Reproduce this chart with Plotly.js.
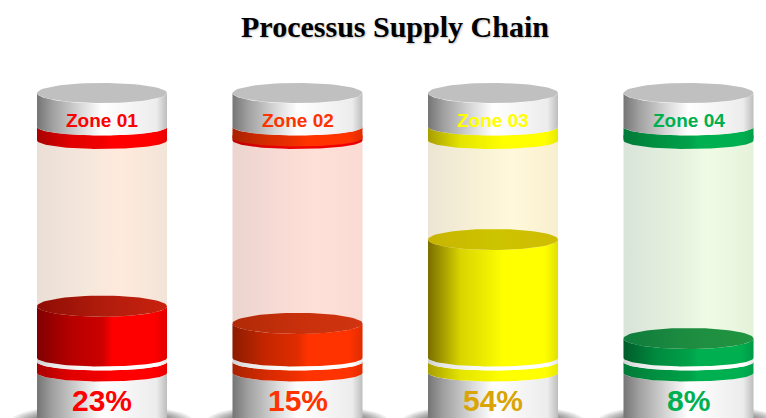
<!DOCTYPE html>
<html>
<head>
<meta charset="utf-8">
<script src="https://cdn.plot.ly/plotly-3.0.1.min.js"></script>
<style>html,body{margin:0;padding:0;background:#fff;overflow:hidden}#chart{width:766px;height:418px}</style>
</head>
<body>
<div id="chart"></div>
<script>
// Supply chain completion per zone
const zones = ["Zone 01", "Zone 02", "Zone 03", "Zone 04"];
const percent = [23, 15, 54, 8];
const labelColors = ["#ff0000", "#ff3300", "#ffff00", "#00b050"];
const valueColors = ["#ff0000", "#ff3300", "#d9a404", "#00b050"];

// Gradient stops, left to right, for each part of the cylinders
const bodyStops = [
  ["#800000", "#b40000", "#cc0000", "#ff0000", "#ff0000", "#e00000"],
  ["#8c1c00", "#c42600", "#e02c00", "#ff3300", "#ff3300", "#e02c00"],
  ["#7a6e00", "#d8d400", "#f4f400", "#ffff00", "#ffff00", "#e0e000"],
  ["#005c2a", "#008a3e", "#00a048", "#00b050", "#00b050", "#009a46"]
];
const bandStops = [
  ["#a80000", "#e00000", "#f00000", "#ff0000", "#ff0000", "#e80000"],
  ["#a82200", "#d42a00", "#f03000", "#ff3300", "#ff3300", "#e02c00"],
  ["#a89e00", "#e4e400", "#f8f800", "#ffff00", "#ffff00", "#e8e800"],
  ["#007a38", "#009040", "#00a048", "#00b050", "#00b050", "#00a048"]
];
const rimStops = [
  bandStops[0],
  ["#c00000", "#e00000", "#f00000", "#f00000", "#f00000", "#e00000"],
  bandStops[2],
  bandStops[3]
];
const surfaceStops = [
  ["#8f0c04", "#b01c0c", "#c8220f"],
  ["#b02a06", "#c8300c", "#d03410"],
  ["#c8b400", "#ccc400", "#d0bc00"],
  ["#0e7c3c", "#1e8c40", "#209540"]
];
const glassStops = [
  ["#eadfd6", "#f8e8dc", "#ffeadd", "#f2e4d8"],
  ["#ebd5cf", "#fadcd5", "#ffe0d8", "#f9dbd3"],
  ["#ece5d3", "#fbf3d6", "#fff8da", "#f8efcf"],
  ["#d9e4da", "#e6f2de", "#f0fbe6", "#e5f2da"]
];
const metalStops = ["#757575", "#a0a0a0", "#dcdcdc", "#ffffff", "#ececec", "#bdbdbd"];
const stripeStops = ["#d0d0d0", "#e8e8e8", "#f8f8f8", "#ffffff", "#ffffff", "#e4e4e4"];

const BODY_POS = [0, 0.25, 0.5, 0.58, 0.9, 1];
const METAL_POS = [0, 0.12, 0.35, 0.5, 0.92, 1];
const GLASS_POS = [0, 0.45, 0.65, 1];
const SURFACE_POS = [0, 0.5, 1];

// Vertical axis is in percent: 0 sits on the lower rim, 100 under the upper band
const PX_PER_PCT = 2.152;
const ZERO_PX = 355.7;
const pct = px => (ZERO_PX - px) / PX_PER_PCT;
const PX_PER_SLOT = 195.5;
const FIRST_CENTER_PX = 102;
const HALF_W = 65 / PX_PER_SLOT;
const STEPS = 72;

function ellipse(cx, cy, rx, ry) {
  const x = [], y = [];
  for (let i = 0; i <= STEPS; i++) {
    const t = 2 * Math.PI * i / STEPS;
    x.push(cx + rx * Math.cos(t));
    y.push(cy + ry * Math.sin(t));
  }
  return {x, y};
}

// Section of a cylinder wall whose upper and lower edges are front arcs
function wall(cx, topPct, botPct, sagTop, sagBot) {
  const x = [], y = [];
  for (let i = 0; i <= STEPS; i++) {
    const t = Math.PI * i / STEPS;
    x.push(cx - HALF_W * Math.cos(t));
    y.push(topPct - sagTop * Math.sin(t));
  }
  for (let i = 0; i <= STEPS; i++) {
    const t = Math.PI * i / STEPS;
    x.push(cx + HALF_W * Math.cos(t));
    y.push(botPct - sagBot * Math.sin(t));
  }
  x.push(x[0]); y.push(y[0]);
  return {x, y};
}

function shape(geo, stops, pos) {
  return {
    type: "scatter", mode: "lines", x: geo.x, y: geo.y,
    line: {width: 0}, fill: "toself", hoverinfo: "skip",
    fillgradient: {type: "horizontal", colorscale: stops.map((c, i) => [pos[i], c])}
  };
}

function flat(geo, color) {
  return {
    type: "scatter", mode: "lines", x: geo.x, y: geo.y,
    line: {width: 0}, fill: "toself", fillcolor: color, hoverinfo: "skip"
  };
}

const SAG = 8.5 / PX_PER_PCT;
const LID = 10.5 / PX_PER_PCT;
const RIM = pct(358);
const traces = [];

zones.forEach((zone, i) => {
  // soft floor shadow
  for (let k = 0; k < 9; k++) {
    traces.push(flat(
      ellipse(i, pct(421), (91 - k * 3.2) / PX_PER_SLOT, (17 - k * 1) / PX_PER_PCT),
      "rgba(0,0,0,0.07)"));
  }
  // metal foot, coloured band and light stripe
  traces.push(shape(wall(i, pct(373), pct(425), SAG, SAG), metalStops, METAL_POS));
  traces.push(shape(wall(i, pct(362), pct(373), SAG, SAG), bandStops[i], BODY_POS));
  traces.push(shape(wall(i, RIM, pct(362), SAG, SAG), stripeStops, METAL_POS));
  // empty glass
  traces.push(shape(wall(i, 100 + SAG, RIM, 0, SAG), glassStops[i], GLASS_POS));
  // filled level with its top surface
  traces.push(shape(wall(i, percent[i], RIM, LID, SAG), bodyStops[i], BODY_POS));
  traces.push(shape(ellipse(i, percent[i], HALF_W, LID), surfaceStops[i], SURFACE_POS));
  // upper band, metal cap and lid
  traces.push(shape(wall(i, pct(135), 100, SAG, SAG), rimStops[i], BODY_POS));
  traces.push(shape(wall(i, pct(127), pct(138), SAG, SAG), bandStops[i], BODY_POS));
  traces.push(shape(wall(i, pct(93), pct(127), LID, SAG), metalStops, METAL_POS));
  traces.push(flat(ellipse(i, pct(93), HALF_W, 10 / PX_PER_PCT), "#c0c0c0"));
});

const annotations = [];
zones.forEach((zone, i) => {
  annotations.push({
    x: i, y: pct(120.5), xref: "x", yref: "y", text: zone, showarrow: false,
    font: {family: "Liberation Sans", size: 19, color: labelColors[i], weight: 700}
  });
  annotations.push({
    x: i, y: pct(400.5), xref: "x", yref: "y", text: percent[i] + "%", showarrow: false,
    font: {family: "Liberation Sans", size: 30, color: valueColors[i], weight: 700}
  });
});

const layout = {
  width: 766, height: 418,
  margin: {l: 0, r: 0, t: 0, b: 0},
  paper_bgcolor: "#ffffff", plot_bgcolor: "#ffffff",
  showlegend: false, hovermode: false,
  title: {
    text: "<b>Processus Supply Chain</b>",
    x: 395 / 766, xanchor: "center", y: 1 - 26 / 418, yanchor: "middle",
    font: {family: "Liberation Serif", size: 30, color: "#000000", shadow: "1px 1px 2px #bbbbbb"}
  },
  xaxis: {
    range: [-FIRST_CENTER_PX / PX_PER_SLOT, (766 - FIRST_CENTER_PX) / PX_PER_SLOT],
    visible: false, fixedrange: true
  },
  yaxis: {range: [pct(418), pct(0)], visible: false, fixedrange: true},
  annotations
};

Plotly.newPlot("chart", traces, layout, {displayModeBar: false, staticPlot: true});
</script>
</body>
</html>
